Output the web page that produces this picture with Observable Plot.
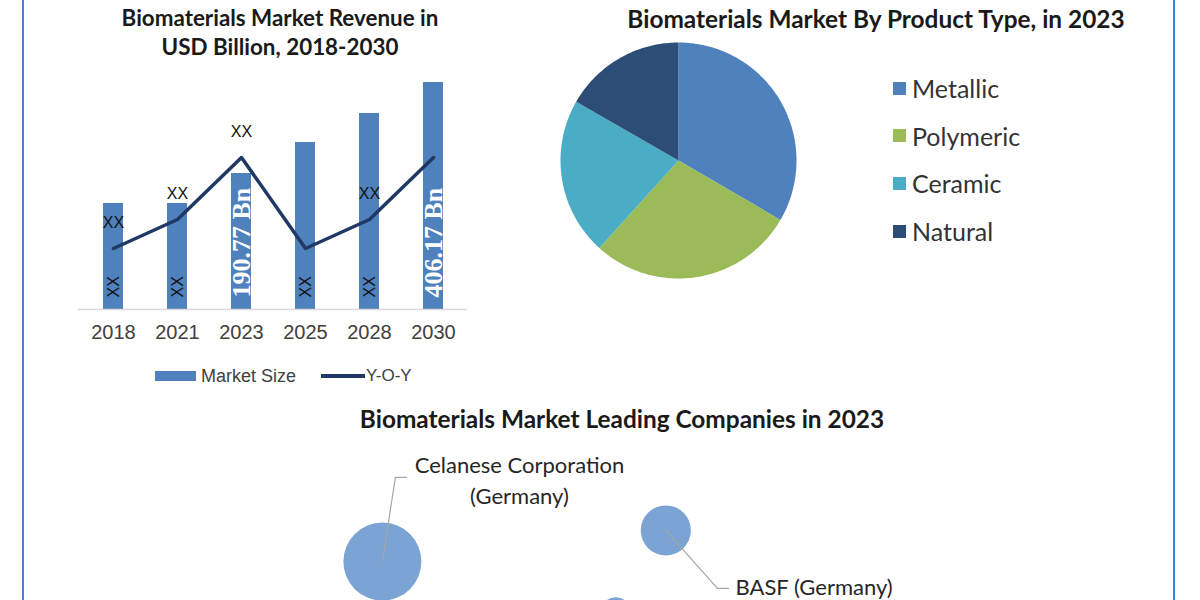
<!DOCTYPE html>
<html><head><meta charset="utf-8">
<script src="https://cdn.jsdelivr.net/npm/d3@7"></script>
<script src="https://cdn.jsdelivr.net/npm/@observablehq/plot@0.6"></script>
<style>
html,body{margin:0;padding:0;background:#fff;}
#page{position:relative;width:1200px;height:600px;overflow:hidden;background:#fff;font-family:Lato,sans-serif;}
.abs{position:absolute;}
.title{position:absolute;font-weight:700;color:#1a1a1a;white-space:nowrap;transform:translateX(-50%);text-align:center;font-family:Lato,sans-serif;}
.vline{position:absolute;top:0;width:2px;height:600px;background:#4a7fd4;}
.leg{position:absolute;white-space:nowrap;}
</style></head>
<body><div id="page"></div>
<script>
// ---------- data ----------
const years = ["2018", "2021", "2023", "2025", "2028", "2030"];
const marketSize = [189.7, 189.7, 243.3, 298.8, 350.7, 406.17];
const barLabels = ["XX", "XX", "190.77 Bn", "XX", "XX", "406.17 Bn"];
const yoy = [6.1, 9.0, 15.2, 6.1, 9.0, 15.2];
const yoyLabels = ["XX", "XX", "XX", "", "XX", ""];

const productTypes = ["Metallic", "Polymeric", "Ceramic", "Natural"];
const productShare = [33.4, 28.3, 21.6, 16.7];
const productColors = ["#4f81bd", "#9bbb59", "#4bacc6", "#2c4d75"];

const companies = ["Celanese Corporation\n(Germany)", "BASF (Germany)", ""];
const companyX = [1.26, 5.62, 4.85];
const companyY = [2.29, 4.12, -0.75];
const companySize = [15, 6.2, 2.5];
const leaderEndX = [1.63, 6.585, null];
const leaderEndY = [7.24, 0.71, null];

const barColor = "#4f81bd";
const lineColor = "#203864";
const bubbleColor = "#7ba3d3";

// ---------- page ----------
const page = document.getElementById("page");
function add(html){ const t=document.createElement("div"); t.innerHTML=html; const el=t.firstElementChild; page.appendChild(el); return el; }
function place(node, left, top){ const w=document.createElement("div"); w.className="abs"; w.style.left=left+"px"; w.style.top=top+"px"; w.appendChild(node); page.appendChild(w); return w; }

add(`<div class="vline" style="left:22px"></div>`);
add(`<div class="vline" style="left:1173px"></div>`);

// titles
add(`<div class="title" style="left:280px;top:3px;font-size:22.4px;line-height:29px">Biomaterials Market Revenue in<br>USD Billion, 2018-2030</div>`);
add(`<div class="title" style="left:876px;top:3px;font-size:24.4px;line-height:32px">Biomaterials Market By Product Type, in 2023</div>`);
add(`<div class="title" style="left:622px;top:403px;font-size:24.4px;line-height:32px">Biomaterials Market Leading Companies in 2023</div>`);

// ---------- bar + line chart ----------
const barData = years.map((y, i) => ({year: y, size: marketSize[i], label: barLabels[i], yoy: yoy[i], yoyLabel: yoyLabels[i]}));
const frame = {width: 500, height: 300, marginLeft: 78, marginRight: 33, marginTop: 22, marginBottom: 51,
  x: {domain: years, paddingInner: 0.69, paddingOuter: 0.345, axis: null}};

const bars = Plot.plot({
  ...frame,
  y: {domain: [0, 406.17], axis: null},
  marks: [
    Plot.barY(barData, {x: "year", y: "size", fill: barColor}),
    Plot.ruleY([0], {stroke: "#d9d9d9", strokeWidth: 1.5}),
    Plot.axisX({label: null, tickSize: 0, tickPadding: 15, fontSize: 20, fontFamily: "Liberation Sans, Arial, sans-serif", color: "#404040"}),
    Plot.text(barData.filter(d => d.label !== "XX"), {x: "year", y: 0, text: "label", rotate: -90, textAnchor: "start", dy: -12,
      fill: "white", fontWeight: "bold", fontSize: 26, fontFamily: "Liberation Serif, Times New Roman, serif"}),
    Plot.text(barData.filter(d => d.label === "XX"), {x: "year", y: 0, text: "label", rotate: -90, textAnchor: "start", dy: -12,
      fill: "#111", fontSize: 16, fontFamily: "Liberation Sans, Arial, sans-serif"})
  ]
});
place(bars, 0, 60);

const lineChart = Plot.plot({
  ...frame,
  style: {background: "transparent"},
  y: {domain: [0, 22.7], axis: null},
  marks: [
    Plot.line(barData, {x: "year", y: "yoy", stroke: lineColor, strokeWidth: 3.5}),
    Plot.text(barData.filter(d => d.yoyLabel), {x: "year", y: "yoy", text: "yoyLabel", dy: -26, fill: "#111", fontSize: 16,
      fontFamily: "Liberation Sans, Arial, sans-serif"})
  ]
});
place(lineChart, 0, 60);

// bar legend
add(`<div class="abs" style="left:155px;top:371px;width:41px;height:10px;background:${barColor}"></div>`);
add(`<div class="leg" style="left:201px;top:366px;font:18px/20px 'Liberation Sans',Arial,sans-serif;color:#404040">Market Size</div>`);
add(`<div class="abs" style="left:321px;top:374px;width:44px;height:3.5px;background:${lineColor}"></div>`);
add(`<div class="leg" style="left:366px;top:366px;font:17px/20px 'Liberation Sans',Arial,sans-serif;color:#404040">Y-O-Y</div>`);

// ---------- pie ----------
const arcs = d3.pie().sort(null).value(d => d)(productShare);
const slicePts = [];
arcs.forEach((a, i) => {
  const n = Math.max(2, Math.ceil((a.endAngle - a.startAngle) / (Math.PI / 180)));
  slicePts.push({type: productTypes[i], px: 0, py: 0});
  for (let k = 0; k <= n; k++) {
    const t = a.startAngle + (a.endAngle - a.startAngle) * k / n;
    slicePts.push({type: productTypes[i], px: Math.sin(t), py: Math.cos(t)});
  }
});
const pie = Plot.plot({
  width: 260, height: 260, margin: 12,
  x: {domain: [-1, 1], axis: null}, y: {domain: [-1, 1], axis: null},
  color: {domain: productTypes, range: productColors},
  marks: [Plot.line(slicePts, {x: "px", y: "py", z: "type", fill: "type", stroke: "none", curve: "linear-closed"})]
});
place(pie, 548, 30);

productTypes.forEach((t, i) => {
  const cy = 88 + i * 47.7;
  add(`<div class="abs" style="left:893px;top:${cy - 6.5}px;width:13px;height:13px;background:${productColors[i]}"></div>`);
  add(`<div class="leg" style="left:912px;top:${cy - 15}px;font:25px/30px Lato,sans-serif;color:#333">${t}</div>`);
});

// ---------- bubbles ----------
const bubbles = companies.map((c, i) => ({name: c, x: companyX[i], y: companyY[i], size: companySize[i], ex: leaderEndX[i], ey: leaderEndY[i], idx: i}));
const labelled = bubbles.filter(d => d.ex != null);
const leaderPts = labelled.flatMap(d => [
  {name: d.name, x: d.x, y: d.y},
  {name: d.name, x: d.ex - 0.17, y: d.ey},
  {name: d.name, x: d.ex, y: d.ey}
]);
const bubbleChart = Plot.plot({
  width: 650, height: 170, margin: 0,
  x: {domain: [0, 10], axis: null}, y: {domain: [0, 10], axis: null},
  r: {domain: [0, 15], range: [0, 39]},
  marks: [
    Plot.dot(bubbles, {x: "x", y: "y", r: "size", fill: bubbleColor}),
    Plot.line(leaderPts, {x: "x", y: "y", z: "name", stroke: "#a6a6a6", strokeWidth: 1.2}),
    Plot.text(labelled.filter(d => d.idx === 0), {x: "ex", y: "ey", text: "name", textAnchor: "middle", dx: 113, dy: 1.5,
      lineHeight: 1.4, fontSize: 22, fill: "#262626", fontFamily: "Lato, sans-serif"}),
    Plot.text(labelled.filter(d => d.idx === 1), {x: "ex", y: "ey", text: "name", textAnchor: "start", dx: 7,
      fontSize: 22, fill: "#262626", fontFamily: "Lato, sans-serif"})
  ]
});
place(bubbleChart, 300, 430);
</script>
</body></html>
